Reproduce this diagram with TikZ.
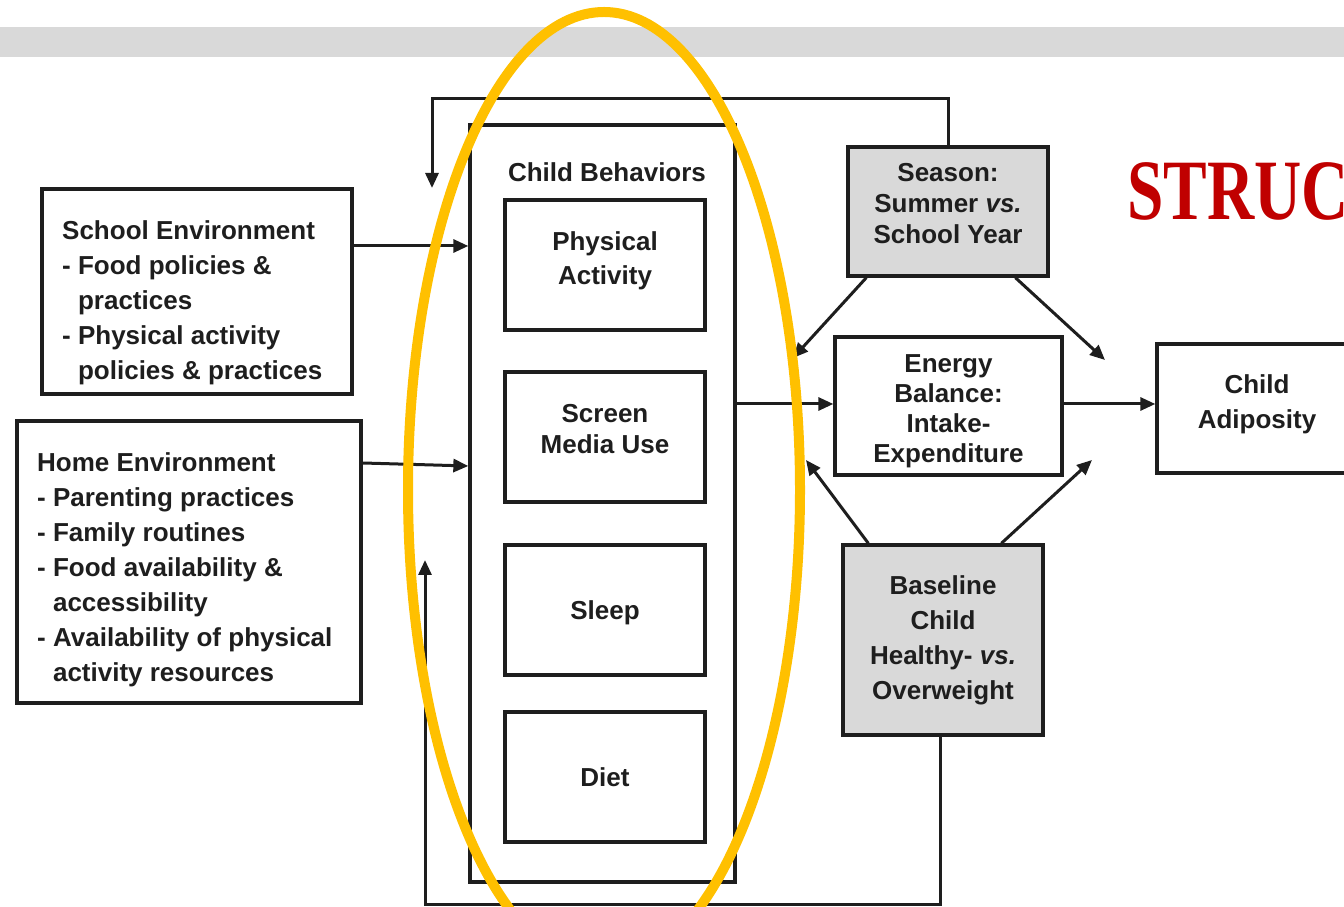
\documentclass[tikz,border=0pt]{standalone}
\usepackage{fontspec}
\setmainfont{Liberation Sans}
\newfontfamily\titlefont{Liberation Serif}
\usetikzlibrary{arrows.meta}
\definecolor{ink}{HTML}{1E1E1E}
\definecolor{band}{HTML}{D9D9D9}
\definecolor{boxgray}{HTML}{D9D9D9}
\definecolor{ovalc}{HTML}{FFC000}
\definecolor{titlered}{HTML}{C00000}
\begin{document}
\begin{tikzpicture}[x=1pt,y=1pt,
  box/.style={draw=ink, line width=3.3pt, inner sep=0pt},
  graybox/.style={box, fill=boxgray},
  lbl/.style={inner sep=0pt, align=center, text=ink,
    font=\bfseries\fontsize{26}{35}\selectfont},
  txt/.style={inner sep=0pt, align=left, text=ink, anchor=north west,
    font=\bfseries\fontsize{26}{35}\selectfont},
  arr/.style={draw=ink, line width=3pt, -{Triangle[length=15pt,width=13pt]}}]
\useasboundingbox (0,0) rectangle (1344,907);
\clip (0,0) rectangle (1344,907);
\fill[band] (0,850) rectangle (1344,880);

% Child behaviours column
\node[box, minimum width=265pt, minimum height=757pt] (cb) at (602.5,403.5) {};
\node[lbl] (cbt) at (607,735) {Child Behaviors};
\node[box, minimum width=200pt, minimum height=130pt] (pa) at (605,642) {};
\node[lbl, font=\bfseries\fontsize{26}{34}\selectfont] (pat) at (605,646) {Physical\\Activity};
\node[box, minimum width=200pt, minimum height=130pt] (smu) at (605,470) {};
\node[lbl, font=\bfseries\fontsize{26}{31}\selectfont] (smut) at (605,478) {Screen\\Media Use};
\node[box, minimum width=200pt, minimum height=130pt] (sleep) at (605,297) {};
\node[lbl] (sleept) at (605,294) {Sleep};
\node[box, minimum width=200pt, minimum height=130pt] (diet) at (605,130) {};
\node[lbl] (dietl) at (605,130) {Diet};

% Environments
\node[box, minimum width=310pt, minimum height=205pt] (school) at (197,615.5) {};
\node[txt] (schoolt) at (62,687) {School Environment\\- Food policies \&\\\phantom{- }practices\\- Physical activity\\\phantom{- }policies \& practices};
\node[box, minimum width=344pt, minimum height=282pt] (home) at (189,345) {};
\node[txt] (homet) at (37,455) {Home Environment\\- Parenting practices\\- Family routines\\- Food availability \&\\\phantom{- }accessibility\\- Availability of physical\\\phantom{- }activity resources};

% Right side
\node[graybox, minimum width=200pt, minimum height=129pt] (season) at (948,695.5) {};
\node[lbl, font=\bfseries\fontsize{26}{31}\selectfont] (seasont) at (948,703.5) {Season:\\Summer \textit{vs.}\\School Year};
\node[box, minimum width=227pt, minimum height=138pt] (eb) at (948.5,501) {};
\node[lbl, font=\bfseries\fontsize{26}{30}\selectfont] (ebt) at (948.5,496) {Energy\\Balance:\\Intake-\\Expenditure};
\node[box, minimum width=200pt, minimum height=129pt] (ca) at (1257,498.5) {};
\node[lbl] (cat) at (1257,502.5) {Child\\Adiposity};
\node[graybox, minimum width=200pt, minimum height=190pt] (bl) at (943,267) {};
\node[lbl] (blt) at (943,267) {Baseline\\Child\\Healthy- \textit{vs.}\\Overweight};

% Connectors
\coordinate (sA) at (0,661);
\draw[arr] (school.east |- sA) -- (cb.west |- sA);
\coordinate (hA) at (0,444);
\coordinate (hB) at (0,441);
\draw[arr] (home.east |- hA) -- (cb.west |- hB);
\coordinate (mid) at (0,503);
\draw[arr] (cb.east |- mid) -- (eb.west |- mid);
\draw[arr] (eb.east |- mid) -- (ca.west |- mid);

\coordinate (s1) at (793,549);
\draw[arr] ([xshift=20pt]season.south west) -- (s1);
\coordinate (s2) at (1105,547);
\draw[arr] ([xshift=169pt]season.south west) -- (s2);
\coordinate (b1) at (806,447);
\draw[arr] ([xshift=27pt]bl.north west) -- (b1);
\coordinate (b2) at (1092,447);
\draw[arr] ([xshift=160pt]bl.north west) -- (b2);

\coordinate (t1) at (432,719);
\draw[arr] (season.north) -- ++(0,47) -| (t1);
\coordinate (u1) at (425,347);
\draw[arr] ([xshift=-3pt]bl.south) -- ++(0,-168) -| (u1);

% Title
\node[font=\titlefont\bfseries\fontsize{86}{86}\selectfont, text=titlered, anchor=base west, inner sep=0pt, xscale=0.76] (title) at (1127,687) {STRUC};

% Highlight oval
\draw[ovalc, line width=10pt] (604,417) ellipse [x radius=196, y radius=478];
\end{tikzpicture}
\end{document}
